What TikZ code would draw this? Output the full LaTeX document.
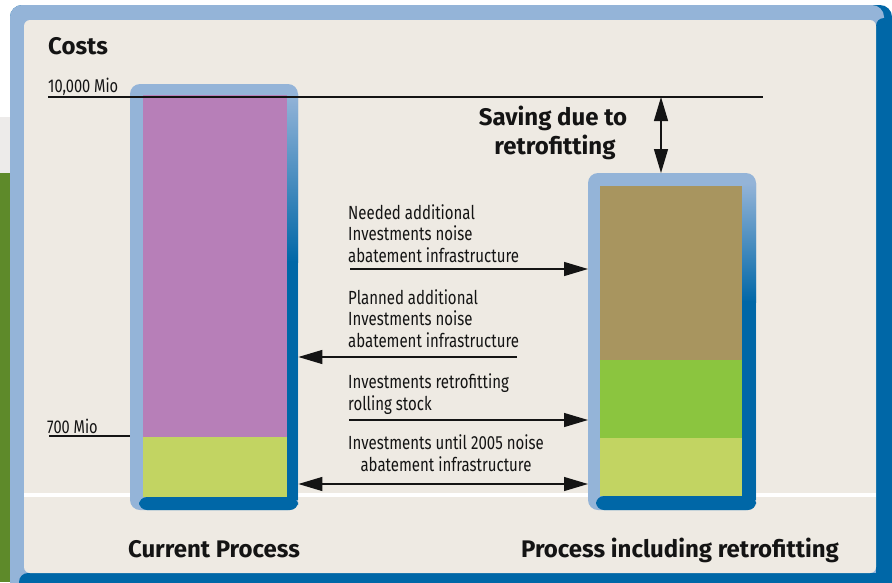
\documentclass[tikz,border=0pt]{standalone}
\usepackage{fontspec}
\setmainfont{Fira Sans}
\newfontfamily\condfont[FakeStretch=0.79]{Fira Sans}
\newfontfamily\headfont{Fira Sans}
\usetikzlibrary{arrows.meta}
\definecolor{lightblue}{HTML}{94B4D8}
\definecolor{darkblue}{HTML}{0067A7}
\definecolor{beige}{HTML}{EEEAE3}
\definecolor{barpurple}{HTML}{B77FB8}
\definecolor{barlime}{HTML}{C2D462}
\definecolor{bargreen}{HTML}{8BC53F}
\definecolor{barbrown}{HTML}{A8955F}
\definecolor{leftgreen}{HTML}{5E8A2A}
\definecolor{pagegray}{HTML}{EDEBEA}
\definecolor{ink}{HTML}{141414}
\begin{document}
\begin{tikzpicture}[x=1pt,y=-1pt,
  lbl/.style={font=\condfont\fontsize{19}{21.5}\selectfont, text=ink, inner sep=0, align=left},
  axlbl/.style={font=\condfont\fontsize{18.5}{20}\selectfont, text=ink, inner sep=0},
  head/.style={font=\headfont\bfseries\fontsize{24}{29}\selectfont, text=ink, inner sep=0},
  conn/.style={draw=ink, line width=1.3pt},
  tip/.style={-{Triangle[length=24pt,width=14pt]}},
  dtip/.style={{Triangle[length=24pt,width=14pt]}-{Triangle[length=24pt,width=14pt]}},
  barframe/.style={inner sep=0, anchor=north west}]
\useasboundingbox (0,0) rectangle (892,582);
% page background
\fill[white] (0,0) rectangle (892,582);
\fill[pagegray] (0,117) rectangle (14,173);
\fill[leftgreen] (0,173) rectangle (14,582);
% outer frame
\fill[darkblue, rounded corners=12pt] (10,5) rectangle (892,600);
\fill[lightblue, rounded corners=12pt] (10,5) rectangle (884,595);
\fill[darkblue, rounded corners=8pt] (876,18) rectangle (892,600);
\fill[darkblue, rounded corners=9pt] (19,573) rectangle (892,600);
\fill[beige, rounded corners=6pt] (24,20) rectangle (876,573);
% white band
\fill[white] (24,493) rectangle (876,497);

% left bar
\node[barframe, minimum width=168pt, minimum height=426pt] (lbar) at (130,84) {};
\fill[lightblue, rounded corners=10pt] (130,84) rectangle (298,510);
\shade[top color=lightblue, bottom color=darkblue] (285,94) rectangle (298,262);
\fill[darkblue] (285,261) rectangle (298,500);
\fill[lightblue, rounded corners=8pt] (136,84) rectangle (292,95);
\fill[darkblue, rounded corners=8pt] (139,497) rectangle (298,510);
\fill[barpurple] (143,95) rectangle (287,437);
\fill[barlime] (143,437) rectangle (287,497);

% right bar
\node[barframe, minimum width=168pt, minimum height=337pt] (rbar) at (588,173) {};
\fill[lightblue, rounded corners=10pt] (588,173) rectangle (756,510);
\shade[top color=lightblue, bottom color=darkblue] (742,183) rectangle (756,302);
\fill[darkblue] (742,301) rectangle (756,500);
\fill[lightblue, rounded corners=8pt] (594,173) rectangle (750,186);
\fill[darkblue, rounded corners=8pt] (596,496) rectangle (756,510);
\fill[barbrown] (600,186) rectangle (742,360);
\fill[bargreen] (600,360) rectangle (742,438);
\fill[barlime] (600,438) rectangle (742,496);

% axis labels and lines
\node[head, anchor=base west] (costs) at (48,54) {Costs};
\node[axlbl, anchor=base west] (t10k) at (48,92) {10,000 Mio};
\coordinate (l10a) at (48,97);
\coordinate (l10b) at (763,97);
\draw[conn] (l10a) -- (l10b);
\node[axlbl, anchor=base west] (t700) at (47,433) {700 Mio};
\coordinate (l700a) at (49,436);
\draw[conn] (l700a) -- (l700a -| lbar.west);

% saving
\node[head, anchor=base] (sav1) at (553,125) {Saving due to};
\node[head, anchor=base] (sav2) at (555,154) {retrofitting};
\coordinate (savtop) at (661,97);
\draw[conn, dtip] (savtop) -- (savtop |- rbar.north);

% labels (base anchor = last line)
\node[lbl, anchor=base west] (n1) at (348,262) {Needed additional\\Investments noise\\abatement infrastructure};
\coordinate (a1) at (350,269);
\draw[conn, tip] (a1) -- (a1 -| rbar.west);

\node[lbl, anchor=base west] (n2) at (348,347) {Planned additional\\Investments noise\\abatement infrastructure};
\coordinate (a2) at (517,357);
\draw[conn, tip] (a2) -- (a2 -| lbar.east);

\node[lbl, anchor=base west] (n3) at (348,410) {Investments retrofitting\\rolling stock};
\coordinate (a3) at (349,420);
\draw[conn, tip] (a3) -- (a3 -| rbar.west);

\node[lbl, anchor=base, align=center] (n4) at (446,471) {Investments until 2005 noise\\abatement infrastructure};
\coordinate (a4) at (446,484);
\draw[conn, dtip] (a4 -| lbar.east) -- (a4 -| rbar.west);

% bar titles
\node[head, anchor=base] (cur) at (214,557) {Current Process};
\node[head, anchor=base] (ret) at (680,557) {Process including retrofitting};
\end{tikzpicture}
\end{document}
